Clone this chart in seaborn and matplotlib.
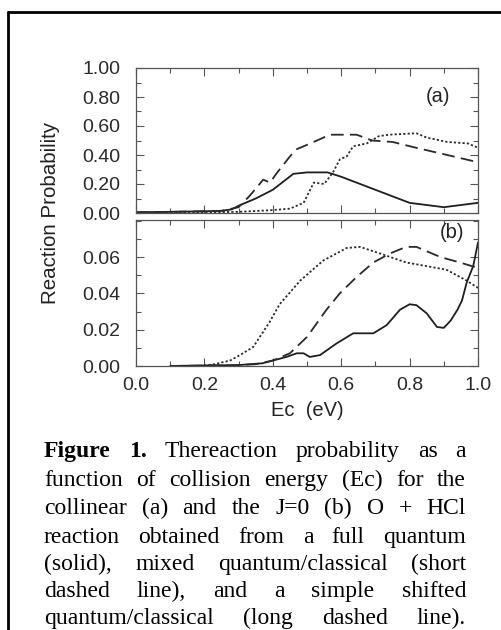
#!/usr/bin/env python3
# -*- coding: utf-8 -*-
'''
Reaction probability vs collision energy, two stacked panels plus caption.
'''
import numpy as np
import pandas as pd
import seaborn as sns
import matplotlib.pyplot as plt
from matplotlib.lines import Line2D
from matplotlib.ticker import MultipleLocator, FormatStrFormatter

sns.set_theme(style="ticks")
plt.rcParams['font.family'] = ['Liberation Sans', 'DejaVu Sans']

# panel (a): collinear
ec_a_full = [0.0, 0.05, 0.1, 0.15, 0.2, 0.25, 0.28, 0.30, 0.35, 0.40, 0.46, 0.50, 0.56, 0.60, 0.70, 0.80, 0.90, 1.0]
p_a_full = [0.005, 0.006, 0.008, 0.01, 0.012, 0.015, 0.025, 0.05, 0.10, 0.16, 0.27, 0.28, 0.28, 0.25, 0.16, 0.07, 0.04, 0.07]
ec_a_mixed = [0.0, 0.1, 0.2, 0.3, 0.4, 0.45, 0.49, 0.52, 0.55, 0.576, 0.596, 0.616, 0.635, 0.675, 0.71, 0.74, 0.82, 0.85, 0.91, 0.97, 1.0]
p_a_mixed = [0.004, 0.005, 0.005, 0.008, 0.02, 0.03, 0.07, 0.21, 0.20, 0.28, 0.37, 0.39, 0.46, 0.48, 0.53, 0.54, 0.55, 0.52, 0.49, 0.48, 0.45]
ec_a_shift = [0.0, 0.1, 0.2, 0.25, 0.30, 0.333, 0.372, 0.392, 0.41, 0.45, 0.47, 0.51, 0.567, 0.645, 0.69, 0.75, 0.81, 0.91, 1.0]
p_a_shift = [0.005, 0.008, 0.012, 0.015, 0.04, 0.12, 0.23, 0.21, 0.27, 0.39, 0.44, 0.48, 0.54, 0.54, 0.50, 0.49, 0.455, 0.40, 0.35]

# panel (b): J=0
ec_b_full = [0.1, 0.2, 0.3, 0.37, 0.44, 0.47, 0.49, 0.508, 0.538, 0.587, 0.635, 0.694, 0.733, 0.772, 0.80, 0.82,
             0.85, 0.88, 0.90, 0.92, 0.94, 0.953, 0.967, 0.986, 1.0]
p_b_full = [0.0, 0.0003, 0.0005, 0.0015, 0.005, 0.007, 0.007, 0.005, 0.006, 0.0125, 0.018, 0.018, 0.0225, 0.031,
            0.034, 0.0335, 0.029, 0.0215, 0.021, 0.025, 0.031, 0.036, 0.046, 0.055, 0.068]
ec_b_mixed = [0.187, 0.23, 0.275, 0.304, 0.343, 0.362, 0.39, 0.42, 0.48, 0.547, 0.616, 0.655, 0.713, 0.79, 0.85, 0.908, 0.967, 1.0]
p_b_mixed = [0.0, 0.001, 0.003, 0.006, 0.0105, 0.016, 0.024, 0.034, 0.047, 0.058, 0.065, 0.0656, 0.062, 0.057, 0.055, 0.053, 0.047, 0.043]
ec_b_shift = [0.1, 0.3, 0.35, 0.40, 0.45, 0.50, 0.557, 0.596, 0.645, 0.694, 0.743, 0.79, 0.82, 0.89, 0.947, 1.0]
p_b_shift = [0.0, 0.0005, 0.001, 0.003, 0.007, 0.016, 0.031, 0.04, 0.049, 0.057, 0.062, 0.0656, 0.0656, 0.060, 0.057, 0.054]

caption = [
    [("Figure", True), ("1.", True), ("Thereaction", False), ("probability", False), ("as", False), ("a", False)],
    "function of collision energy (Ec) for the",
    "collinear (a) and the J=0 (b) O + HCl",
    "reaction obtained from a full quantum",
    "(solid), mixed quantum/classical (short",
    "dashed line), and a simple shifted",
    "quantum/classical (long dashed line).",
]


def frame(ec_full, p_full, ec_mixed, p_mixed, ec_shift, p_shift):
    parts = []
    for name, x, y in [("full", ec_full, p_full), ("mixed", ec_mixed, p_mixed), ("shift", ec_shift, p_shift)]:
        parts.append(pd.DataFrame({"Ec": x, "P": y, "method": name}))
    return pd.concat(parts, ignore_index=True)


W, H = 501, 630
fig = plt.figure(figsize=(W / 100, H / 100), dpi=100)
fig.patch.set_facecolor("white")


def fx(px):
    return px / W


def fy(py):
    return 1 - py / H


ax_a = fig.add_axes([fx(136), fy(213), 342 / W, 145 / H])
ax_b = fig.add_axes([fx(136), fy(366), 342 / W, 146 / H])

dashes = {"full": "", "mixed": (1.2, 1.2), "shift": (7, 3.5)}
pal = {"full": "#1e1e1e", "mixed": "#2a2a2a", "shift": "#2a2a2a"}

sns.lineplot(data=frame(ec_a_full, p_a_full, ec_a_mixed, p_a_mixed, ec_a_shift, p_a_shift),
             x="Ec", y="P", hue="method", style="method", dashes=dashes, palette=pal,
             linewidth=1.3, legend=False, ax=ax_a)
sns.lineplot(data=frame(ec_b_full, p_b_full, ec_b_mixed, p_b_mixed, ec_b_shift, p_b_shift),
             x="Ec", y="P", hue="method", style="method", dashes=dashes, palette=pal,
             linewidth=1.3, legend=False, ax=ax_b)

ax_a.set_ylim(0, 1.0)
ax_b.set_ylim(0, 0.0804)
for ax in (ax_a, ax_b):
    ax.set_xlim(0, 1.0)
    ax.xaxis.set_major_locator(MultipleLocator(0.2))
    ax.xaxis.set_minor_locator(MultipleLocator(0.1))
    ax.tick_params(which="both", direction="in", top=True, right=True, colors="#555555",
                   labelcolor="#2a2a2a", labelsize=14, width=0.8)
    ax.tick_params(which="major", length=6)
    ax.tick_params(which="minor", length=3.5)
    ax.tick_params(axis="y", which="major", pad=11)
    ax.tick_params(axis="x", which="major", pad=8)
    for s in ax.spines.values():
        s.set_color("#555555")
        s.set_linewidth(0.9)
    ax.set_xlabel("")
    ax.set_ylabel("")

ax_a.yaxis.set_major_locator(MultipleLocator(0.2))
ax_a.yaxis.set_minor_locator(MultipleLocator(0.1))
ax_a.yaxis.set_major_formatter(FormatStrFormatter("%.2f"))
ax_a.tick_params(labelbottom=False)

ax_b.set_yticks([0.0, 0.02, 0.04, 0.06])
ax_b.yaxis.set_minor_locator(MultipleLocator(0.01))
ax_b.yaxis.set_major_formatter(FormatStrFormatter("%.2f"))
ax_b.xaxis.set_major_formatter(FormatStrFormatter("%.1f"))

ax_a.text(fx(438), fy(97), "(a)", transform=fig.transFigure, ha="center", va="center", fontsize=14.5, color="#222222")
ax_b.text(fx(452), fy(232), "(b)", transform=fig.transFigure, ha="center", va="center", fontsize=14.5, color="#222222")

fig.text(fx(307), fy(411), "Ec  (eV)", ha="center", va="center", fontsize=14.5, color="#222222")
fig.text(fx(51), fy(213), "Reaction Probability", ha="center", va="center", rotation=90,
         fontsize=14.8, color="#222222")

# outer frame (top and left edges are visible)
fig.add_artist(Line2D([fx(8), fx(8)], [fy(12), 0], transform=fig.transFigure, color="black", lw=2))
fig.add_artist(Line2D([fx(8), 1], [fy(12), fy(12)], transform=fig.transFigure, color="black", lw=2))

# justified caption
left, right = 44, 466
baselines = [457, 486, 514, 543, 570, 597, 624]
renderer = fig.canvas.get_renderer()
for line, base in zip(caption, baselines):
    words = line if isinstance(line, list) else [(w, False) for w in line.split()]
    texts = []
    for w, bold in words:
        t = fig.text(0, fy(base), w, fontsize=17, family=["Liberation Serif", "DejaVu Serif"],
                     fontweight="bold" if bold else "normal", va="baseline", ha="left", color="black")
        texts.append(t)
    widths = [t.get_window_extent(renderer).width for t in texts]
    gap = (right - left - sum(widths)) / max(len(texts) - 1, 1)
    x = left
    for t, w in zip(texts, widths):
        t.set_x(fx(x))
        x += w + gap

fig.savefig("out.png", dpi=100)
